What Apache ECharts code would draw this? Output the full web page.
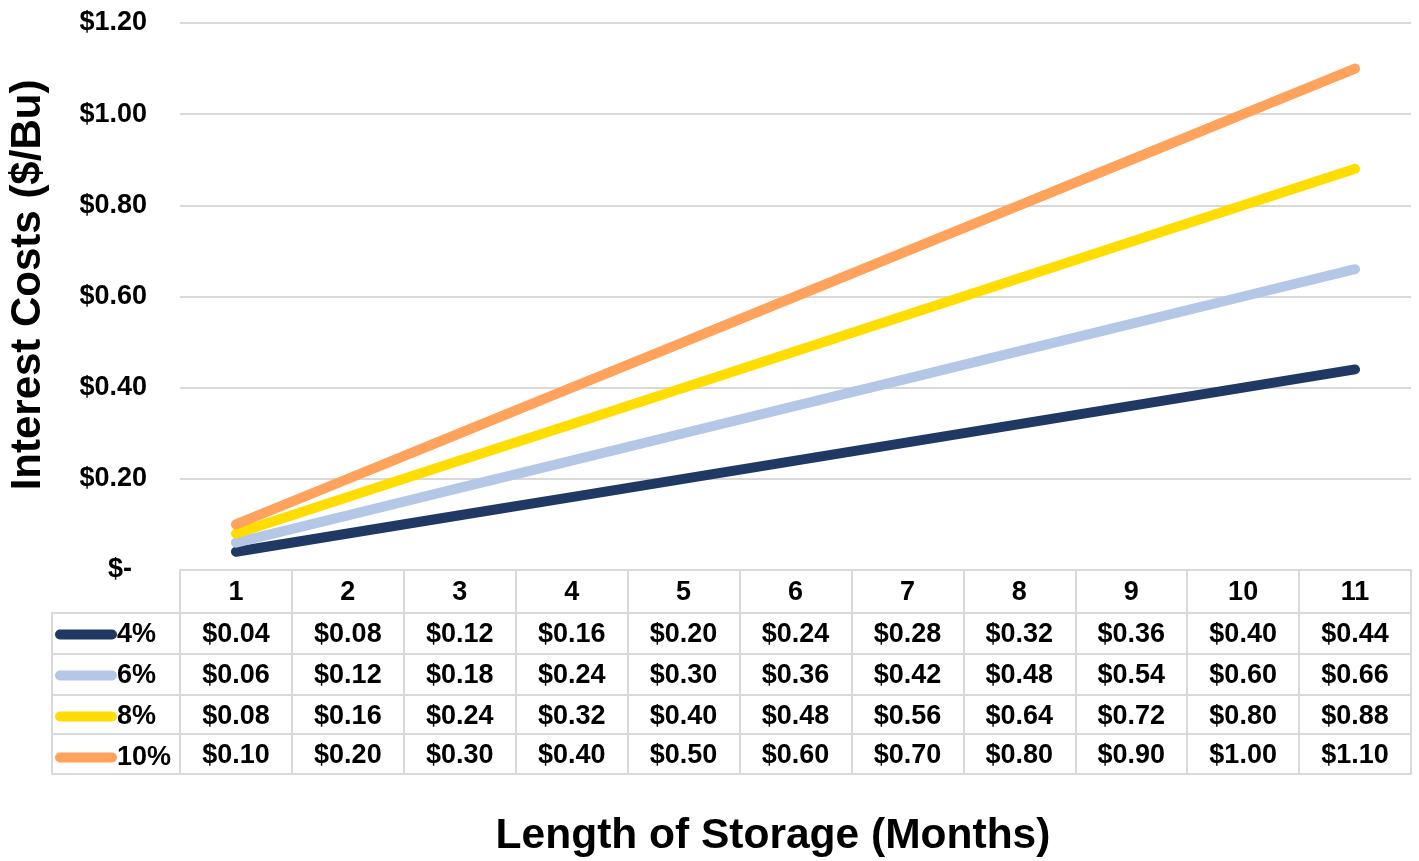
<!DOCTYPE html>
<html>
<head>
<meta charset="utf-8">
<script src="https://cdn.jsdelivr.net/npm/echarts@6/dist/echarts.min.js"></script>
<style>html,body{margin:0;padding:0;background:#fff;}#c{width:1419px;height:861px;}</style>
</head>
<body>
<div id="c"></div>
<script>
const months = ['1','2','3','4','5','6','7','8','9','10','11'];
const rate4  = [0.04,0.08,0.12,0.16,0.20,0.24,0.28,0.32,0.36,0.40,0.44];
const rate6  = [0.06,0.12,0.18,0.24,0.30,0.36,0.42,0.48,0.54,0.60,0.66];
const rate8  = [0.08,0.16,0.24,0.32,0.40,0.48,0.56,0.64,0.72,0.80,0.88];
const rate10 = [0.10,0.20,0.30,0.40,0.50,0.60,0.70,0.80,0.90,1.00,1.10];
const seriesNames = ['4%','6%','8%','10%'];
const seriesData = [rate4, rate6, rate8, rate10];
const colors = ['#1F3864','#B4C7E7','#FFDD00','#FFA25C'];
const yTitle = 'Interest Costs ($/Bu)';
const xTitle = 'Length of Storage (Months)';

const FONT = 'Arial, "Liberation Sans", sans-serif';
const GRID = '#d9d9d9';
const FS = 27;
const fmt = v => '$' + v.toFixed(2);

const chart = echarts.init(document.getElementById('c'));

const rowOffsets = [43, 84, 125, 164];
const xAxes = [{
  type:'category', data: months, position:'bottom', offset:0, gridIndex:0,
  boundaryGap:true,
  axisLine:{show:true, lineStyle:{color:GRID, width:2}},
  axisTick:{show:true, length:204, interval:0, lineStyle:{color:GRID, width:2}},
  axisLabel:{show:true, interval:0, margin:9, color:'#000', fontWeight:'bold', fontSize:FS, fontFamily:FONT, lineHeight:27}
}];
seriesData.forEach((d, i) => {
  xAxes.push({
    type:'category', data: months, position:'bottom', offset: rowOffsets[i], gridIndex:0,
    axisLine:{show:true, lineStyle:{color:GRID, width:2}},
    axisTick:{show:false},
    axisLabel:{show:true, interval:0, margin:8, color:'#000', fontWeight:'bold', fontSize:FS, fontFamily:FONT, lineHeight:27,
      formatter:(val, idx) => fmt(d[idx])}
  });
});
xAxes.push({
  type:'category', data: months, position:'bottom', offset:204, gridIndex:0,
  axisLine:{show:true, lineStyle:{color:GRID, width:2}},
  axisTick:{show:false}, axisLabel:{show:false}
});

const rowLines = [613, 654, 695, 734, 774];
const graphics = rowLines.map(y => ({type:'line', shape:{x1:52, y1:y, x2:181, y2:y}, style:{stroke:GRID, lineWidth:2}}));
graphics.push({type:'line', shape:{x1:52, y1:612, x2:52, y2:775}, style:{stroke:GRID, lineWidth:2}});
graphics.push({type:'text', x:28, y:285, rotation:Math.PI/2,
  style:{text:yTitle, textAlign:'center', textVerticalAlign:'middle', font:'bold 42px ' + FONT, fill:'#000'}});
graphics.push({type:'text', x:773, y:836,
  style:{text:xTitle, textAlign:'center', textVerticalAlign:'middle', font:'bold 42.5px ' + FONT, fill:'#000'}});

chart.setOption({
  animation:false,
  backgroundColor:'#fff',
  color: colors,
  grid:{left:180, right:8, top:23, bottom:291, containLabel:false},
  legend:{
    orient:'vertical', left:55, top:621, padding:0, itemGap:14,
    itemWidth:62, itemHeight:10,
    icon:'path://M5,0 H57 A5,5 0 0 1 57,10 H5 A5,5 0 0 1 5,0 Z',
    textStyle:{color:'#000', fontWeight:'bold', fontSize:FS, fontFamily:FONT, lineHeight:27, padding:[0,0,0,-5]},
    data: seriesNames
  },
  xAxis: xAxes,
  yAxis:{
    type:'value', min:0, max:1.2, interval:0.2,
    axisLine:{show:false}, axisTick:{show:false},
    splitLine:{show:true, lineStyle:{color:GRID, width:2}},
    axisLabel:{margin:33, color:'#000', fontWeight:'bold', fontSize:FS, fontFamily:FONT,
      formatter: v => v === 0 ? '$-  ' : fmt(v)}
  },
  graphic: graphics,
  series: seriesData.map((d, i) => ({
    name: seriesNames[i], type:'line', data:d, xAxisIndex:0,
    symbol:'none', smooth:false,
    lineStyle:{width:10, color:colors[i], cap:'round', join:'round'},
    itemStyle:{color:colors[i]}
  }))
});
</script>
</body>
</html>
